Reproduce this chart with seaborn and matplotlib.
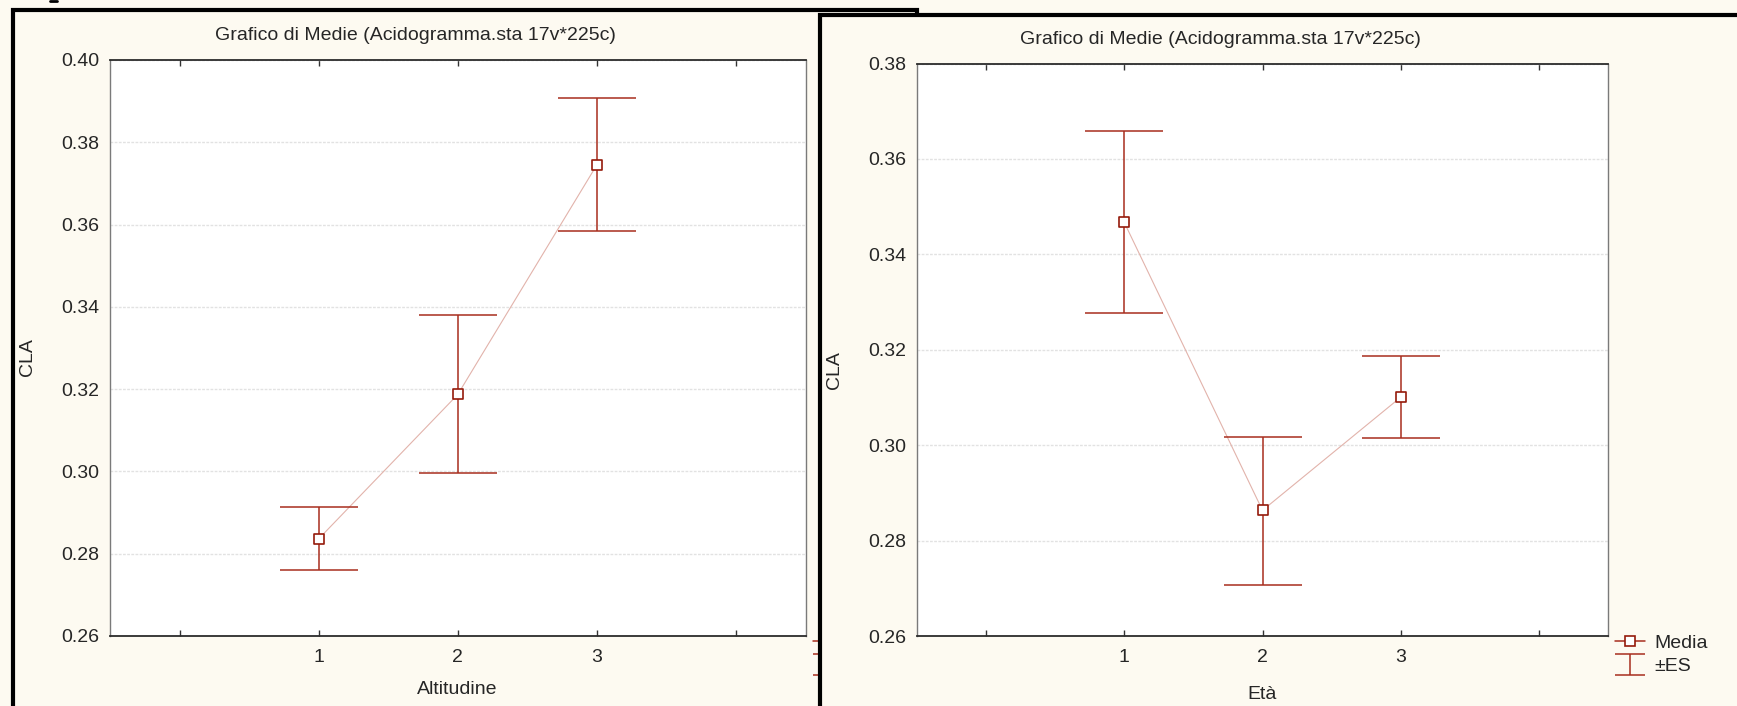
import numpy as np
import matplotlib.pyplot as plt
import seaborn as sns
from matplotlib.patches import Rectangle
from matplotlib.lines import Line2D
from matplotlib.collections import LineCollection
from matplotlib.container import ErrorbarContainer
from matplotlib.legend_handler import HandlerErrorbar
from matplotlib.ticker import FormatStrFormatter

# data (mean, mean+SE, mean-SE)
levels = [1, 2, 3]
tick_pos = [0, 1, 2, 3, 4]
tick_txt = ['', '1', '2', '3', '']

alt_mean = [0.2836, 0.3187, 0.3745]
alt_upper = [0.2913, 0.3379, 0.3907]
alt_lower = [0.2760, 0.2995, 0.3584]

eta_mean = [0.3467, 0.2864, 0.3101]
eta_upper = [0.3659, 0.3018, 0.3187]
eta_lower = [0.3277, 0.2708, 0.3016]

title_txt = 'Grafico di Medie (Acidogramma.sta 17v*225c)'
legend_txt = ['Media', '±ES']

W, H = 1737, 706
cream = '#FDFAF1'
err_c = '#A82E1E'
mark_c = '#951A0B'
line_c = '#E2B3AB'
FS = 14

sns.set_style('white')
plt.rcParams['font.family'] = ['Liberation Sans', 'DejaVu Sans']

fig = plt.figure(figsize=(W / 100, H / 100), dpi=100, facecolor=cream)


def fx(x):
    return x / W


def fy(y):
    return 1 - y / H


def rect(x0, y0, x1, y1):
    return [fx(x0), fy(y1), (x1 - x0) / W, (y1 - y0) / H]


def draw_panel(ax, means, upper, lower, ylim, yticks):
    x = np.array(levels)
    m = np.array(means)
    err = [m - np.array(lower), np.array(upper) - m]
    ax.set_facecolor('white')
    sns.lineplot(x=x, y=m, ax=ax, color=line_c, lw=0.8, zorder=2)
    ax.errorbar(x, m, yerr=err, fmt='none', ecolor=err_c, elinewidth=1.1,
                capsize=28, capthick=1.1, zorder=3)
    sns.scatterplot(x=x, y=m, ax=ax, marker='s', s=46, facecolor='white',
                    edgecolor=mark_c, linewidth=1.2, zorder=4)
    ax.set_xlim(-0.5, 4.5)
    ax.set_ylim(*ylim)
    ax.set_yticks(yticks)
    ax.yaxis.set_major_formatter(FormatStrFormatter('%.2f'))
    ax.set_xticks(tick_pos)
    ax.set_xticklabels(tick_txt)
    ax.grid(axis='y', color='#E2E2E2', lw=1, ls=(0, (2, 1)))
    ax.tick_params(axis='x', which='both', direction='in', length=4, width=1,
                   color='#333333', top=True, bottom=True, labelsize=FS, pad=9)
    ax.tick_params(axis='y', length=0, labelsize=FS, pad=8)
    for s in ['top', 'bottom']:
        ax.spines[s].set_color('#2b2b2b')
        ax.spines[s].set_linewidth(1.3)
    for s in ['left', 'right']:
        ax.spines[s].set_color('#7a7a7a')
        ax.spines[s].set_linewidth(1.0)
    ax.set_xlabel('')
    ax.set_ylabel('')

    media_h = Line2D([], [], color=err_c, lw=1.1, marker='s', mfc='white',
                     mec=mark_c, ms=6.5, mew=1.2)
    cap = Line2D([], [], color=err_c, lw=1.1, marker='_', ms=21, mew=1.1)
    bar = LineCollection([], colors=err_c, linewidths=1.1)
    es_h = ErrorbarContainer((None, (cap, cap), (bar,)), has_xerr=False, has_yerr=True)
    return [media_h, es_h]


def add_legend(ax, handles, x, y):
    leg = ax.legend(handles, legend_txt, loc='upper left',
                    bbox_to_anchor=(fx(x), fy(y)), bbox_transform=fig.transFigure,
                    frameon=False, borderpad=0, borderaxespad=0,
                    handlelength=1.55, handletextpad=0.5, labelspacing=0.3, fontsize=FS,
                    handler_map={ErrorbarContainer: HandlerErrorbar(xerr_size=0.5, yerr_size=0.55)})
    return leg


# left window frame
fig.add_artist(Rectangle((fx(13), fy(730)), (917 - 13) / W, (730 - 10) / H,
                         transform=fig.transFigure, fc=cream, ec='black', lw=3, zorder=-2))
fig.add_artist(Line2D([fx(50), fx(57)], [fy(1), fy(1)], color='black', lw=2, zorder=-1))

ax1 = fig.add_axes(rect(110, 60, 805.5, 636), zorder=0)
h1 = draw_panel(ax1, alt_mean, alt_upper, alt_lower, (0.26, 0.40),
                np.arange(0.26, 0.4001, 0.02))
leg1 = add_legend(ax1, h1, 812.8, 634)
# the left legend sits behind the right window: only its symbols peek out
for t in leg1.get_texts():
    t.set_visible(False)
fig.text(fx(415), fy(35.7), title_txt, ha='center', va='center', fontsize=FS)
fig.text(fx(457.7), fy(689), 'Altitudine', ha='center', va='center', fontsize=FS)
fig.text(fx(28), fy(357), 'CLA', ha='center', va='center', rotation=90, fontsize=FS)

# right window frame, drawn over the left one
fig.add_artist(Rectangle((fx(819.5), fy(730)), (1780 - 819.5) / W, (730 - 15) / H,
                         transform=fig.transFigure, fc=cream, ec='black', lw=3, zorder=1))

ax2 = fig.add_axes(rect(917, 63.5, 1608, 636.4), zorder=2)
h2 = draw_panel(ax2, eta_mean, eta_upper, eta_lower, (0.26, 0.38),
                np.arange(0.26, 0.3801, 0.02))
add_legend(ax2, h2, 1615, 634)
fig.text(fx(1220), fy(40), title_txt, ha='center', va='center', fontsize=FS, zorder=3)
fig.text(fx(1262), fy(694.6), 'Età', ha='center', va='center', fontsize=FS, zorder=3)
fig.text(fx(835), fy(370), 'CLA', ha='center', va='center', rotation=90, fontsize=FS, zorder=3)

fig.savefig('out.png', dpi=100, facecolor=cream)
